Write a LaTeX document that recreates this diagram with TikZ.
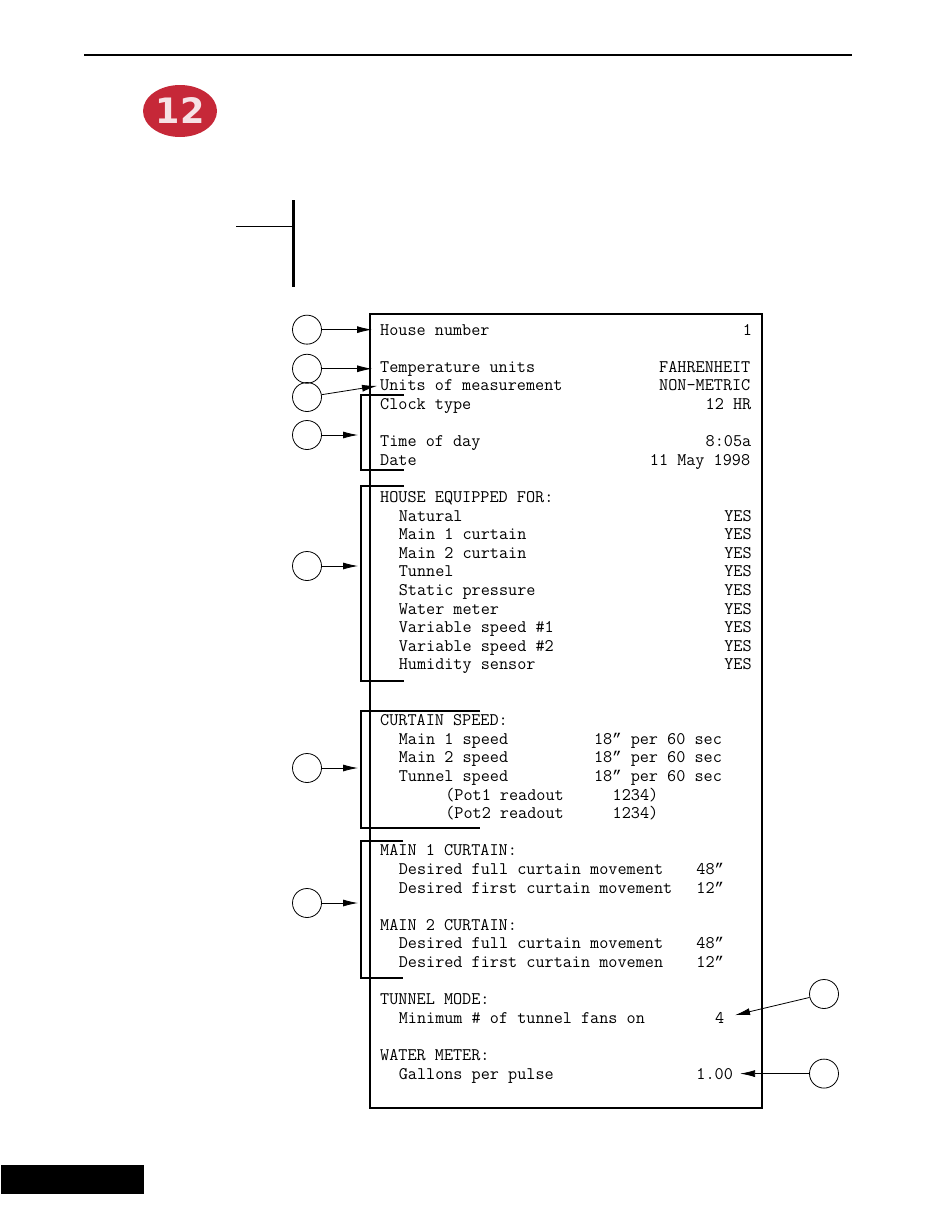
\documentclass[tikz,border=0pt]{standalone}
\usepackage{fontspec}
\usetikzlibrary{calc, positioning, shapes.geometric, arrows.meta}
\newfontfamily\badgefont{DejaVu Sans}
\newfontfamily\quotefont{Liberation Mono}
\definecolor{badgered}{RGB}{198,40,56}
\definecolor{badgetext}{RGB}{246,226,229}
\def\colsep{9.3}
\def\rowsep{18.6}
\def\inch{{\quotefont\fontsize{15.5}{18.6}\selectfont ”}}
\tikzstyle{printline}=[inner sep=0pt, anchor=base west, font=\ttfamily\fontsize{17.7}{18.6}\selectfont]
\tikzstyle{callout}=[circle, draw, line width=0.8pt, minimum size=29pt, inner sep=0pt]
\tikzstyle{pointer}=[-{Latex[length=15pt,width=7pt]}, line width=0.8pt]
\tikzstyle{bracket}=[line width=1.4pt]

\begin{document}
\begin{tikzpicture}[x=1pt, y=-1pt]
		\useasboundingbox (0,0) rectangle (950,1229);
		% Page header with the step badge
		\draw[line width=2.5pt] (84,55) -- (852,55);
		\node[ellipse, fill=badgered, minimum width=74pt, minimum height=52pt, inner sep=0pt, text=badgetext, font=\badgefont\bfseries\fontsize{35}{35}\selectfont] (badge) at (180,111) {12};
		\draw[line width=3pt] (293,200) -- (293,287);
		\draw[line width=1pt] (236,226) -- (293,226);
		\fill[black] (1,1165) rectangle (144,1194);

		% Draw the printout
		\draw[line width=1.8pt] (370,314) rectangle (762,1108);
		\foreach \row / \col / \txt in {0/0/House number, 2/0/Temperature units, 3/0/Units of measurement,
			4/0/Clock type, 6/0/Time of day, 7/0/Date, 9/0/HOUSE EQUIPPED FOR:, 10/2/Natural,
			11/2/Main 1 curtain, 12/2/Main 2 curtain, 13/2/Tunnel, 14/2/Static pressure, 15/2/Water meter,
			16/2/Variable speed \#1, 17/2/Variable speed \#2, 18/2/Humidity sensor, 21/0/CURTAIN SPEED:,
			22/2/Main 1 speed, 23/2/Main 2 speed, 24/2/Tunnel speed, 25/7/(Pot1 readout, 26/7/(Pot2 readout,
			28/0/MAIN 1 CURTAIN:, 29/2/Desired full curtain movement, 30/2/Desired first curtain movement,
			32/0/MAIN 2 CURTAIN:, 33/2/Desired full curtain movement, 34/2/Desired first curtain movemen,
			36/0/TUNNEL MODE:, 37/2/Minimum \# of tunnel fans on, 39/0/WATER METER:, 40/2/Gallons per pulse}
		\node[printline] (R-\row) at ({380+\col*\colsep}, {335+\row*\rowsep}) {\txt};

		% Values in the right column
		\foreach \row / \col / \txt in {0/39/1, 2/30/FAHRENHEIT, 3/30/NON-METRIC, 4/35/12 HR, 6/35/8:05a,
			7/29/11 May 1998, 22/23/18\inch{} per 60 sec, 23/23/18\inch{} per 60 sec, 24/23/18\inch{} per 60 sec,
			25/25/1234), 26/25/1234), 29/34/48\inch, 30/34/12\inch, 33/34/48\inch, 34/34/12\inch, 37/36/4, 40/34/1.00}
		\node[printline] (V-\row) at ({380+\col*\colsep}, {335+\row*\rowsep}) {\txt};

		\foreach \row in {10,...,18}
		\node[printline] (V-\row) at ({380+37*\colsep}, {335+\row*\rowsep}) {YES};

		% Callouts to single lines
		\coordinate (lcol) at (307,0);
		\coordinate (rcol) at (824,0);
		\node[callout] (C-1) at (lcol |- R-0.west) {};
		\node[callout] (C-2) at (lcol |- R-2.west) {};
		\node[callout] (C-3) at (307,397) {};
		\path (C-1) edge[pointer, shorten >=8pt] (R-0.west);
		\path (C-2) edge[pointer, shorten >=8pt] (R-2.west);
		\path (C-3) edge[pointer, shorten >=3pt] (R-3.west);

		% Brackets round groups of lines, with their callouts
		\foreach \name / \top / \bot / \len / \y in {4/395/470/404/435, 5/486/681/404/566, 6/711/828/480/768, 7/841/978/403/903}
		{
			\draw[bracket] (\len,\top) -| (361,\bot) -- (\len,\bot);
			\coordinate (B-\name) at (361,\y);
			\node[callout] (C-\name) at (lcol |- B-\name) {};
			\path (C-\name) edge[pointer, shorten >=3pt] (B-\name);
		}

		% Callouts on the right
		\node[callout] (C-8) at (824,994) {};
		\node[callout] (C-9) at (rcol |- V-40.east) {};
		\path (C-8) edge[pointer, shorten >=11pt] (V-37.east);
		\path (C-9) edge[pointer, shorten >=7pt] (V-40.east);
	\end{tikzpicture}
\end{document}
